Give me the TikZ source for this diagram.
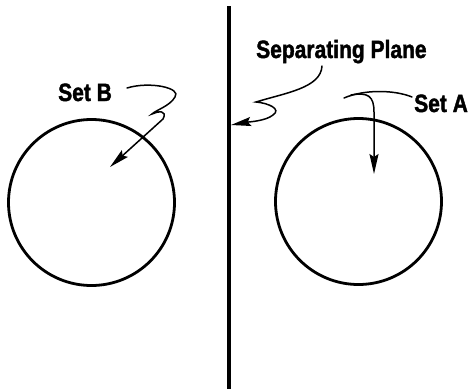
\documentclass[tikz,border=0pt]{standalone}
\usepackage{fontspec}
\setmainfont[FakeStretch=0.84,BoldFeatures={FakeBold=1.6}]{Liberation Sans}
\usetikzlibrary{arrows.meta}
\begin{document}
\begin{tikzpicture}[x=1pt,y=-1pt,
  setcircle/.style={circle,draw,line width=2.8pt,minimum size=166pt,inner sep=0pt},
  lbl/.style={anchor=base west,inner sep=0pt,font=\fontsize{25}{29}\selectfont\bfseries},
  leader/.style={line width=1.5pt,line cap=round},
  tip/.style={-{Stealth[length=20pt,width=9pt,inset=3pt]}},
  plane/.style={line width=3.4pt}]
\useasboundingbox (0,0) rectangle (474,389);
% separating plane
\coordinate (ptop) at (229,6);
\coordinate (pbot) at (229,389);
\draw[plane] (ptop) -- (pbot);
% circles
\node[setcircle] (cB) at (91.5,202.5) {};
\node[setcircle] (cA) at (358.5,201.5) {};
% labels
\node[lbl] (SetB) at (58,101) {Set B};
\node[lbl] (SetA) at (414,112) {Set A};
\node[lbl] (Sep) at (256,58) {Separating Plane};
% Set B leader
\coordinate (b0) at (127,88);
\coordinate (b1) at (175,97);
\coordinate (b2) at (152,114);
\coordinate (b3) at (163,119);
\coordinate (btip) at (110,167);
\draw[leader,tip] (b0) .. controls (150,81) and (182,88) .. (b1)
  .. controls (170,106) and (156,110) .. (b2)
  .. controls (158,111) and (168,110) .. (b3) -- (btip);
% Separating plane leader
\coordinate (s0) at (322,66);
\coordinate (s1) at (256,102);
\coordinate (s2) at (273,115);
\coordinate (stip) at (231,125);
\draw[leader,tip] (s0) .. controls (321,88) and (285,93) .. (s1)
  .. controls (268,103) and (282,109) .. (s2)
  .. controls (266,121) and (248,122) .. (stip);
% Set A leader
\coordinate (a0) at (412,97);
\coordinate (a1) at (344,98);
\coordinate (a2) at (351,95);
\coordinate (a3) at (374,112);
\coordinate (atip) at (374,174);
\draw[leader] (a0) .. controls (395,90) and (365,89) .. (a1);
\draw[leader,tip] (a2) .. controls (368,92) and (374,96) .. (a3) -- (atip);
\end{tikzpicture}
\end{document}
